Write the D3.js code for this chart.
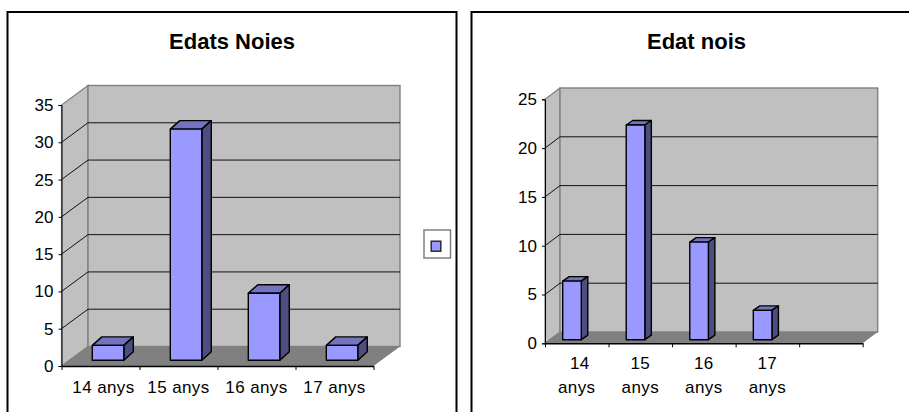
<!DOCTYPE html>
<html>
<head>
<meta charset="utf-8">
<script src="https://cdn.jsdelivr.net/npm/d3@7"></script>
<style>
  html, body { margin: 0; padding: 0; background: #fff; }
  svg { display: block; font-family: "Liberation Sans", Arial, sans-serif; }
</style>
</head>
<body>
<svg id="chart" width="909" height="412"></svg>
<script>
// Ages of the girls
const noiesTitle = "Edats Noies";
const noiesCategories = ["14 anys", "15 anys", "16 anys", "17 anys"];
const noiesValues = [2, 31, 9, 2];
const noiesTicks = [0, 5, 10, 15, 20, 25, 30, 35];

// Ages of the boys; the axis keeps one empty slot on the right
const noisTitle = "Edat nois";
const noisCategories = ["14 anys", "15 anys", "16 anys", "17 anys", ""];
const noisValues = [6, 22, 10, 3, null];
const noisTicks = [0, 5, 10, 15, 20, 25];

const COLORS = {
  wall: "#c0c0c0", wallEdge: "#808080", floor: "#808080",
  front: "#9999ff", top: "#7373bf", side: "#4d4d80"
};

const svg = d3.select("#chart");

function pts(list) { return list.map(p => p.join(",")).join(" "); }

function drawColumnChart(o) {
  const g = svg.append("g");

  // Outer frame, open at the bottom where the page cuts it off
  g.append("path")
    .attr("d", `M${o.frame[0]},412 V${o.frame[1]} H${o.frame[2]} ${o.frame[2] < 909 ? "V412" : ""}`)
    .attr("fill", "none").attr("stroke", "#000").attr("stroke-width", 2);

  g.append("text").attr("x", o.titleX).attr("y", 49).attr("text-anchor", "middle")
    .attr("font-weight", "bold").attr("font-size", 22).attr("fill", "#000").text(o.title);

  const y = d3.scaleLinear().domain(o.domain).range([o.y0, o.yTop]);
  const x = d3.scaleBand().domain(o.categories).range([o.x0, o.x1]);
  const edge = d3.scaleLinear().domain([0, o.categories.length]).range([o.x0, o.x1]);
  const [dx, dy] = o.depth;
  const backRight = o.x1 + dx;

  // Left wall, back wall and floor of the 3-D box
  g.append("polygon").attr("points", pts([[o.x0, y(0)], [o.x0 + dx, y(0) - dy], [o.x0 + dx, o.yTop - dy], [o.x0, o.yTop]]))
    .attr("fill", COLORS.wall).attr("stroke", COLORS.wallEdge).attr("stroke-width", 1.2);
  g.append("rect").attr("x", o.x0 + dx).attr("y", o.yTop - dy)
    .attr("width", o.x1 - o.x0).attr("height", y(0) - o.yTop)
    .attr("fill", COLORS.wall).attr("stroke", COLORS.wallEdge).attr("stroke-width", 1.4);
  g.append("polygon").attr("points", pts([[o.x0, y(0)], [o.x1, y(0)], [backRight, y(0) - dy], [o.x0 + dx, y(0) - dy]]))
    .attr("fill", COLORS.floor);

  // Gridlines wrap from the value axis across the left wall and along the back
  g.append("g").selectAll("polyline").data(o.ticks.filter(t => t > 0 && t < o.domain[1])).join("polyline")
    .attr("points", t => pts([[o.x0, y(t)], [o.x0 + dx, y(t) - dy], [backRight, y(t) - dy]]))
    .attr("fill", "none").attr("stroke", "#111").attr("stroke-width", 1);

  // Value axis
  const yAxis = g.append("g").attr("transform", `translate(${o.x0},0)`)
    .call(d3.axisLeft(y).tickValues(o.ticks).tickSize(3).tickPadding(o.tickPadding).tickFormat(d3.format("d")));
  yAxis.selectAll("path,line").attr("stroke", "#000");
  yAxis.selectAll("text").attr("font-size", o.fontSize).attr("font-family", "inherit").attr("fill", "#000");

  // Category axis: ticks sit on the slot boundaries
  const xAxis = g.append("g").attr("transform", `translate(0,${y(0)})`)
    .call(d3.axisBottom(edge).tickValues(d3.range(o.categories.length + 1)).tickSize(4).tickSizeOuter(0).tickFormat(""));
  xAxis.selectAll("path,line").attr("stroke", "#000");
  xAxis.select("path").attr("stroke-width", 1.4);

  // Bars: front face, lid and right side
  const bars = g.append("g").selectAll("g")
    .data(o.categories.map((c, i) => ({ c, v: o.values[i] })).filter(d => d.v !== null)).join("g")
    .attr("stroke", "#000").attr("stroke-width", 1.4).attr("stroke-linejoin", "round");
  const left = d => x(d.c) + o.barInset;
  const right = d => left(d) + o.barWidth;
  const base = y(0) - o.barLift;
  const top = d => y(d.v) - o.barLift;
  const [bx, by] = o.barDepth;
  bars.append("polygon").attr("fill", COLORS.top)
    .attr("points", d => pts([[left(d), top(d)], [right(d), top(d)], [right(d) + bx, top(d) - by], [left(d) + bx, top(d) - by]]));
  bars.append("polygon").attr("fill", COLORS.side)
    .attr("points", d => pts([[right(d), top(d)], [right(d) + bx, top(d) - by], [right(d) + bx, base - by], [right(d), base]]));
  bars.append("rect").attr("fill", COLORS.front)
    .attr("x", left).attr("y", top).attr("width", o.barWidth).attr("height", d => base - top(d));

  // Category labels, wrapped when the slot is narrow
  const labels = g.append("g").selectAll("text").data(o.categories.filter(c => c)).join("text")
    .attr("text-anchor", "middle").attr("font-size", o.fontSize).attr("fill", "#000")
    .attr("letter-spacing", o.letterSpacing);
  labels.each(function (c, i) {
    const cx = x(c) + x.bandwidth() / 2;
    const lines = o.wrap ? c.split(" ") : [c];
    lines.forEach((line, j) => {
      // The first label's opening line sits a little right of its slot centre
      const nudge = i === 0 && j === 0 ? o.firstNudge : 0;
      d3.select(this).append("tspan").attr("x", cx + nudge).attr("y", o.labelY + j * 24).text(line);
    });
  });
}

drawColumnChart({
  title: noiesTitle, titleX: 232, categories: noiesCategories, values: noiesValues, ticks: noiesTicks,
  domain: [0, 35], frame: [7.5, 12, 456.5],
  x0: 61.5, x1: 373.5, y0: 366, yTop: 105, depth: [26.5, 19.5],
  barInset: 30.8, barWidth: 31.5, barLift: 5.7, barDepth: [9.5, 8.5],
  fontSize: 17, letterSpacing: 0.4, labelY: 392.5, wrap: false, firstNudge: 3, tickPadding: 5
});

drawColumnChart({
  title: noisTitle, titleX: 696.5, categories: noisCategories, values: noisValues, ticks: noisTicks,
  domain: [0, 25], frame: [471.5, 12, 909],
  x0: 545, x1: 862.7, y0: 343.3, yTop: 99.3, depth: [15, 11.3],
  barInset: 17.7, barWidth: 18.6, barLift: 3.6, barDepth: [6.5, 4.5],
  fontSize: 17, letterSpacing: 0.4, labelY: 369.3, wrap: true, firstNudge: 3, tickPadding: 5
});

// Legend box with its single colour key
svg.append("rect").attr("x", 424).attr("y", 230).attr("width", 26.5).attr("height", 28)
  .attr("fill", "#fff").attr("stroke", "#808080").attr("stroke-width", 1.5);
svg.append("rect").attr("x", 431.2).attr("y", 241.2).attr("width", 9.6).attr("height", 10)
  .attr("fill", COLORS.front).attr("stroke", "#222").attr("stroke-width", 1.4);
</script>
</body>
</html>
